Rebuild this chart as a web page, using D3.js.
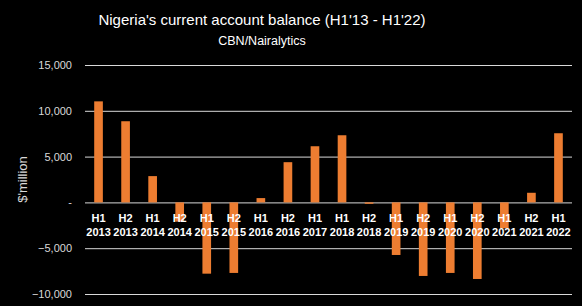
<!DOCTYPE html>
<html lang="en">
<head>
  <meta charset="UTF-8" />
  <title>Nigeria's current account balance</title>
  <style>
    body { margin: 0; background: #000; }
    svg { display: block; }
    text { font-family: "Liberation Sans", Arial, sans-serif; }
  </style>
</head>
<body>
  <svg id="chart" width="582" height="306"></svg>

  <script src="https://d3js.org/d3.v7.min.js"></script>
  <script>
    const periods = ["H1", "H2", "H1", "H2", "H1", "H2", "H1", "H2", "H1",
                     "H1", "H2", "H1", "H2", "H1", "H2", "H1", "H2", "H1"];
    const years = ["2013", "2013", "2014", "2014", "2015", "2015", "2016", "2016", "2017",
                   "2018", "2018", "2019", "2019", "2020", "2020", "2021", "2021", "2022"];
    // $ million
    const balance = [11030, 8860, 2870, -2100, -7780, -7700, 470, 4390, 6130,
                     7330, -150, -5740, -8030, -7700, -8360, -2830, 1050, 7550];
    const yTicks = [-10000, -5000, 0, 5000, 10000, 15000];

    const margin = {top: 65, right: 10, bottom: 12, left: 85};
    const width = 572 - margin.left;
    const height = 294 - margin.top;

    const svg = d3.select("#chart");

    svg.append("text")
      .attr("x", 262).attr("y", 25)
      .attr("text-anchor", "middle")
      .attr("fill", "#fff")
      .attr("font-size", "15px")
      .text("Nigeria's current account balance (H1'13 - H1'22)");

    svg.append("text")
      .attr("x", 262).attr("y", 45)
      .attr("text-anchor", "middle")
      .attr("fill", "#fff")
      .attr("font-size", "12.5px")
      .text("CBN/Nairalytics");

    const g = svg.append("g")
      .attr("transform", `translate(${margin.left},${margin.top})`);

    const idx = d3.range(balance.length);
    const x = d3.scaleBand().domain(idx).range([0, width]).paddingInner(0.68).paddingOuter(0.34);
    const y = d3.scaleLinear().domain([-10000, 15000]).range([height, 0]);

    // grid + y labels
    const yAxis = g.append("g")
      .call(d3.axisLeft(y).tickValues(yTicks).tickSize(-width)
        .tickFormat(d => d === 0 ? "-" : d3.format(",")(d)));
    yAxis.select(".domain").remove();
    yAxis.selectAll(".tick line").attr("stroke", "#d9d9d9").attr("stroke-width", 1);
    yAxis.selectAll(".tick text")
      .attr("x", -13)
      .attr("fill", "#d9d9d9")
      .attr("font-size", "11px")
      .attr("font-family", "Liberation Sans, Arial, sans-serif");

    g.selectAll(".bar")
      .data(balance)
      .join("rect")
      .attr("class", "bar")
      .attr("x", (d, i) => x(i))
      .attr("width", x.bandwidth())
      .attr("y", d => y(Math.max(0, d)))
      .attr("height", d => Math.abs(y(d) - y(0)))
      .attr("fill", "#ed7d31");

    // x category labels sit just below zero line
    const lab = g.selectAll(".xlab")
      .data(idx)
      .join("text")
      .attr("class", "xlab")
      .attr("text-anchor", "middle")
      .attr("fill", "#fff")
      .attr("font-weight", "bold")
      .attr("font-size", "11px");
    lab.append("tspan")
      .attr("x", i => x(i) + x.bandwidth() / 2)
      .attr("y", y(0) + 20)
      .text(i => periods[i]);
    lab.append("tspan")
      .attr("x", i => x(i) + x.bandwidth() / 2)
      .attr("y", y(0) + 34)
      .text(i => years[i]);

    svg.append("text")
      .attr("transform", `translate(27,${margin.top + height / 2}) rotate(-90)`)
      .attr("text-anchor", "middle")
      .attr("fill", "#d9d9d9")
      .attr("font-size", "13px")
      .text("$'million");
  </script>
</body>
</html>
